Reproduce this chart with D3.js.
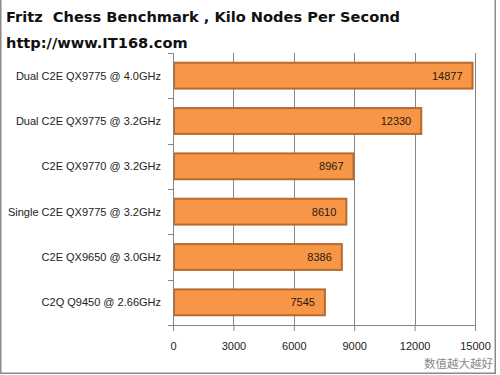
<!DOCTYPE html>
<html>
<head>
<meta charset="utf-8">
<script src="https://cdn.jsdelivr.net/npm/d3@7"></script>
<style>
  body { margin: 0; background: #fff; }
  svg { display: block; }
</style>
</head>
<body>
<script>
var w = 500,
    h = 375;

// data
var cpus = [
  "Dual C2E QX9775 @ 4.0GHz",
  "Dual C2E QX9775 @ 3.2GHz",
  "C2E QX9770 @ 3.2GHz",
  "Single C2E QX9775 @ 3.2GHz",
  "C2E QX9650 @ 3.0GHz",
  "C2Q Q9450 @ 2.66GHz"
];
var kiloNodes = [14877, 12330, 8967, 8610, 8386, 7545];
var xTicks = [0, 3000, 6000, 9000, 12000, 15000];

var titleLines = ["Fritz  Chess Benchmark , Kilo Nodes Per Second", "http://www.IT168.com"];
var note = "数值越大越好";

var margin = {top: 53, right: 25, bottom: 50, left: 173};

var svg = d3.select('body')
            .append('svg')
            .attr('width', w)
            .attr('height', h);

// frame round the picture (left, right, bottom)
svg.append('path')
   .attr('d', 'M0.75,0 V373.25 H495.25 V0')
   .style('fill', 'none')
   .style('stroke', '#8a8a8a')
   .style('stroke-width', 1.5);

// title (keep the double space)
svg.selectAll('text.title')
   .data(titleLines)
   .enter()
   .append('text')
   .attr('class', 'title')
   .attr('x', 6)
   .attr('y', function(d, i) { return 22 + i * 26; })
   .style('white-space', 'pre')
   .style('font-family', 'DejaVu Sans, Verdana, sans-serif')
   .style('font-weight', 'bold')
   .style('font-size', '14.6px')
   .style('fill', '#111')
   .text(function(d) { return d; });

var x = d3.scaleLinear()
          .domain([0, 15000])
          .range([margin.left, 475]);

var y = d3.scaleBand()
          .domain(cpus)
          .range([margin.top, h - margin.bottom])
          .paddingInner(0.43)
          .paddingOuter(0.215);

var yEdges = d3.scaleLinear()
               .domain([0, cpus.length])
               .range([margin.top, h - margin.bottom]);

// gridlines
svg.selectAll('line.grid')
   .data(xTicks.slice(1))
   .enter()
   .append('line')
   .attr('class', 'grid')
   .attr('x1', function(d) { return Math.round(x(d)) + 0.5; })
   .attr('x2', function(d) { return Math.round(x(d)) + 0.5; })
   .attr('y1', margin.top)
   .attr('y2', h - margin.bottom)
   .style('stroke', '#868686')
   .style('stroke-width', 1);

// bars
svg.selectAll('rect.bar')
   .data(kiloNodes)
   .enter()
   .append('rect')
   .attr('class', 'bar')
   .attr('x', x(0) + 1)
   .attr('y', function(d, i) { return y(cpus[i]); })
   .attr('width', function(d) { return x(d) - x(0) - 1; })
   .attr('height', y.bandwidth())
   .style('fill', '#f79646')
   .style('stroke', '#b8692e')
   .style('stroke-width', 2);

// value labels
svg.selectAll('text.value')
   .data(kiloNodes)
   .enter()
   .append('text')
   .attr('class', 'value')
   .attr('x', function(d) { return x(d) - 10; })
   .attr('y', function(d, i) { return y(cpus[i]) + y.bandwidth() / 2 + 4; })
   .attr('text-anchor', 'end')
   .style('font-family', 'Liberation Sans, Arial, sans-serif')
   .style('font-size', '11px')
   .style('fill', '#2a1a10')
   .text(function(d) { return d; });

// x axis
var xAxis = d3.axisBottom(x)
              .tickValues(xTicks)
              .tickFormat(d3.format('d'))
              .tickSize(6)
              .tickPadding(11);

var gx = svg.append('g')
            .attr('transform', 'translate(0,' + (h - margin.bottom) + ')')
            .call(xAxis);
gx.select('.domain').style('stroke', '#868686');
gx.selectAll('.tick line').style('stroke', '#868686');
gx.selectAll('text')
  .style('font-family', 'Liberation Sans, Arial, sans-serif')
  .style('font-size', '11px')
  .style('fill', '#222');

// y axis: line, ticks at band edges, labels
svg.append('line')
   .attr('x1', x(0) + 0.5)
   .attr('x2', x(0) + 0.5)
   .attr('y1', margin.top)
   .attr('y2', h - margin.bottom + 6)
   .style('stroke', '#868686');

svg.selectAll('line.ytick')
   .data(d3.range(cpus.length + 1))
   .enter()
   .append('line')
   .attr('class', 'ytick')
   .attr('x1', x(0) - 5)
   .attr('x2', x(0))
   .attr('y1', function(d) { return Math.round(yEdges(d)) + 0.5; })
   .attr('y2', function(d) { return Math.round(yEdges(d)) + 0.5; })
   .style('stroke', '#868686');

svg.selectAll('text.cat')
   .data(cpus)
   .enter()
   .append('text')
   .attr('class', 'cat')
   .attr('x', x(0) - 12)
   .attr('y', function(d) { return y(d) + y.bandwidth() / 2 + 4; })
   .attr('text-anchor', 'end')
   .style('font-family', 'Liberation Sans, Arial, sans-serif')
   .style('font-size', '11px')
   .style('fill', '#222')
   .text(function(d) { return d; });

// note under axis
svg.append('text')
   .attr('x', 493)
   .attr('y', 368)
   .attr('text-anchor', 'end')
   .style('font-family', 'Noto Sans CJK SC, sans-serif')
   .style('font-size', '11.5px')
   .style('fill', '#8a8a8a')
   .text(note);
</script>
</body>
</html>
